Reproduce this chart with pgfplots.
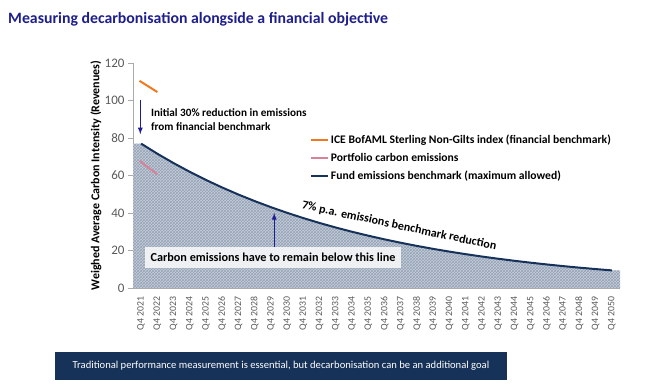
\documentclass[border=0pt]{standalone}
\usepackage{pgfplots}
\pgfplotsset{compat=1.18}
\usepackage{fontspec}
\setmainfont{Carlito}
\usetikzlibrary{patterns}
\definecolor{titleblue}{RGB}{30,30,140}
\definecolor{navy}{RGB}{22,50,90}
\definecolor{orangeline}{RGB}{240,120,30}
\definecolor{pinkline}{RGB}{214,130,152}
\definecolor{arrowblue}{RGB}{28,28,150}
\definecolor{fillbase}{RGB}{198,206,218}
\definecolor{hatch}{RGB}{150,162,182}
\definecolor{banner}{RGB}{22,50,88}
\definecolor{txtgray}{RGB}{89,89,89}
\definecolor{axgray}{RGB}{170,170,170}
\begin{document}
\begin{tikzpicture}[x=1pt,y=1pt]
\path[use as bounding box] (0,0) rectangle (655,385);
\node[anchor=west, text=titleblue, font=\fontsize{15.8}{18}\selectfont\bfseries, inner sep=0] at (8,366) {Measuring decarbonisation alongside a financial objective};
\begin{axis}[
  at={(133pt,97pt)}, anchor=south west,
  scale only axis, width=487pt, height=225pt,
  xmin=-0.5, xmax=29.5, ymin=0, ymax=120,
  axis x line*=bottom, axis y line*=left,
  axis line style={axgray},
  ytick={0,20,...,120},
  /pgf/number format/assume math mode=true,
  yticklabel style={font=\fontsize{13}{13}\selectfont, text=txtgray},
  ylabel={Weighed Average Carbon Intensity (Revenues)},
  ylabel style={font=\fontsize{12}{12}\selectfont\bfseries, at={(axis description cs:0,0.5)}, anchor=south, yshift=28pt},
  xtick={0,...,29},
  xticklabels={Q4 2021,Q4 2022,Q4 2023,Q4 2024,Q4 2025,Q4 2026,Q4 2027,Q4 2028,Q4 2029,Q4 2030,Q4 2031,Q4 2032,Q4 2033,Q4 2034,Q4 2035,Q4 2036,Q4 2037,Q4 2038,Q4 2039,Q4 2040,Q4 2041,Q4 2042,Q4 2043,Q4 2044,Q4 2045,Q4 2046,Q4 2047,Q4 2048,Q4 2049,Q4 2050},
  xticklabel style={rotate=90, anchor=east, font=\fontsize{9.8}{9.8}\selectfont, text=txtgray},
  x tick style={draw=none},
  minor x tick num=1,
  minor x tick style={axgray},
  tick align=outside,
  major tick length=5pt, minor tick length=4pt,
  y tick style={axgray},
  clip=false,
  legend cell align=left,
  legend style={at={(0.363,0.69)}, anchor=north west, draw=none, fill=none,
    font=\fontsize{11.6}{11.6}\selectfont\bfseries, row sep=4pt, inner sep=0pt},
  legend image code/.code={\draw[#1] (0pt,0pt) -- (17pt,0pt);},
]
% shaded area (fund emissions benchmark)
\addplot[fill=fillbase, draw=none, forget plot] coordinates {
(-0.5,77) (0,77) (1,71.61) (2,66.60) (3,61.94) (4,57.60) (5,53.57) (6,49.82) (7,46.33) (8,43.09) (9,40.07)
(10,37.27) (11,34.66) (12,32.23) (13,29.98) (14,27.88) (15,25.93) (16,24.11) (17,22.42) (18,20.85) (19,19.39)
(20,18.04) (21,16.77) (22,15.60) (23,14.51) (24,13.49) (25,12.55) (26,11.67) (27,10.85) (28,10.09) (29,9.39) (29.5,9.39)
} \closedcycle;
\addplot[pattern=crosshatch, pattern color=hatch, draw=none, forget plot] coordinates {
(-0.5,77) (0,77) (1,71.61) (2,66.60) (3,61.94) (4,57.60) (5,53.57) (6,49.82) (7,46.33) (8,43.09) (9,40.07)
(10,37.27) (11,34.66) (12,32.23) (13,29.98) (14,27.88) (15,25.93) (16,24.11) (17,22.42) (18,20.85) (19,19.39)
(20,18.04) (21,16.77) (22,15.60) (23,14.51) (24,13.49) (25,12.55) (26,11.67) (27,10.85) (28,10.09) (29,9.39) (29.5,9.39)
} \closedcycle;
\addplot[orangeline, line width=2pt] coordinates {(-0.1,110.5) (1,104.5)};
\addlegendentry{ICE BofAML Sterling Non-Gilts index (financial benchmark)}
\addplot[pinkline, line width=2pt] coordinates {(-0.1,67.8) (1,60.6)};
\addlegendentry{Portfolio carbon emissions}
\addplot[navy, line width=2pt] coordinates {
(0,77) (1,71.61) (2,66.60) (3,61.94) (4,57.60) (5,53.57) (6,49.82) (7,46.33) (8,43.09) (9,40.07)
(10,37.27) (11,34.66) (12,32.23) (13,29.98) (14,27.88) (15,25.93) (16,24.11) (17,22.42) (18,20.85) (19,19.39)
(20,18.04) (21,16.77) (22,15.60) (23,14.51) (24,13.49) (25,12.55) (26,11.67) (27,10.85) (28,10.09) (29,9.39)
};
\addlegendentry{Fund emissions benchmark (maximum allowed)}
% annotations
\draw[arrowblue, line width=1.3pt, -latex] (axis cs:-0.05,100.5) -- (axis cs:-0.05,82);
\node[anchor=north west, align=left, font=\fontsize{11.2}{14}\selectfont\bfseries, inner sep=0] at (axis cs:0.6,96) {Initial 30\% reduction in emissions\\from financial benchmark};
\node[fill=white, fill opacity=0.8, text opacity=1, font=\fontsize{12.2}{12.2}\selectfont\bfseries, anchor=west, inner xsep=6pt, minimum height=21pt] at (axis cs:0.2,16.5) {Carbon emissions have to remain below this line};
\draw[arrowblue, line width=1.3pt, -latex] (axis cs:8.2,21.8) -- (axis cs:8.2,40);
\node[rotate=-12, font=\fontsize{12}{12}\selectfont\bfseries] at (axis cs:15.9,33) {7\% p.a. emissions benchmark reduction};
\end{axis}
\node[fill=banner, text=white, minimum width=452pt, minimum height=28pt, font=\fontsize{10.6}{10.6}\selectfont, inner sep=0] at (281,19) {Traditional performance measurement is essential, but decarbonisation can be an additional goal};
\end{tikzpicture}
\end{document}
